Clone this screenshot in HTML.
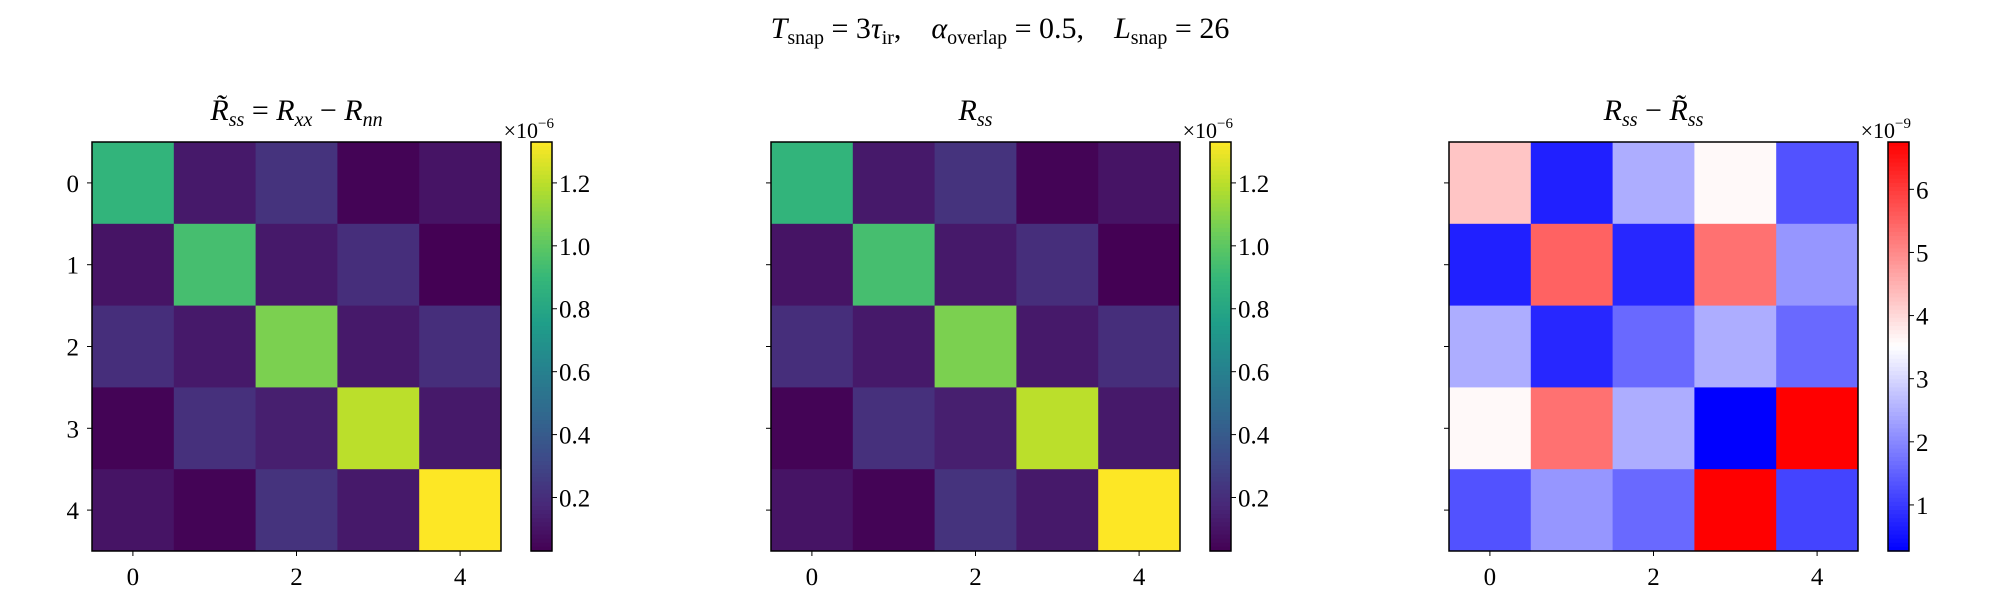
<!DOCTYPE html>
<html><head><meta charset="utf-8">
<style>
html,body{margin:0;padding:0;background:#fff;}
svg{display:block;font-family:"Liberation Serif","DejaVu Serif",serif;}
</style></head>
<body>
<svg id="fig" width="2000" height="600" viewBox="0 0 2000 600" xmlns="http://www.w3.org/2000/svg">
<text x="1000" y="38" text-anchor="middle" font-size="30"><tspan font-style="italic">T</tspan><tspan font-size="20" dy="6">snap</tspan><tspan dy="-6"> = 3</tspan><tspan font-style="italic">τ</tspan><tspan font-size="20" dy="6">ir</tspan><tspan dy="-6">,&#160;&#160;&#160;&#160;</tspan><tspan font-style="italic">α</tspan><tspan font-size="20" dy="6">overlap</tspan><tspan dy="-6"> = 0.5,&#160;&#160;&#160;&#160;</tspan><tspan font-style="italic">L</tspan><tspan font-size="20" dy="6">snap</tspan><tspan dy="-6"> = 26</tspan></text>
</svg>
<script>
const ticksX = [0, 2, 4];
const ticksY = [0, 1, 2, 3, 4];
const rtildeValues = [
  [0.88, 0.12, 0.22, 0.04, 0.10],
  [0.10, 0.94, 0.12, 0.20, 0.03],
  [0.20, 0.12, 1.07, 0.12, 0.20],
  [0.04, 0.21, 0.14, 1.20, 0.12],
  [0.10, 0.04, 0.22, 0.12, 1.33]
];
const rssValues = [
  [0.88, 0.12, 0.22, 0.04, 0.10],
  [0.10, 0.94, 0.12, 0.20, 0.03],
  [0.20, 0.12, 1.07, 0.12, 0.20],
  [0.04, 0.21, 0.14, 1.20, 0.12],
  [0.10, 0.04, 0.22, 0.12, 1.33]
];
const diffValues = [
  [4.25, 0.68, 2.47, 3.58, 1.31],
  [0.68, 5.50, 0.76, 5.32, 2.18],
  [2.47, 0.76, 1.60, 2.47, 1.60],
  [3.58, 5.32, 2.47, 0.27, 6.75],
  [1.31, 2.18, 1.60, 6.75, 1.13]
];
const viridisTicks = [0.2, 0.4, 0.6, 0.8, 1.0, 1.2];
const viridisTickLabels = ["0.2", "0.4", "0.6", "0.8", "1.0", "1.2"];
const bwrTicks = [1, 2, 3, 4, 5, 6];
const bwrTickLabels = ["1", "2", "3", "4", "5", "6"];

const NS = "http://www.w3.org/2000/svg";
const svgEl = document.getElementById('fig');
function mk(tag, attrs, parent) {
  const e = document.createElementNS(NS, tag);
  for (const k in attrs) e.setAttribute(k, attrs[k]);
  (parent || svgEl).appendChild(e);
  return e;
}
const VIR = [[68,1,84],[72,40,120],[62,74,137],[49,104,142],[38,130,142],[31,158,137],[53,183,121],[109,205,89],[180,222,44],[253,231,37]];
function viridis(t) {
  t = Math.max(0, Math.min(1, t));
  const s = t * (VIR.length - 1), i = Math.min(Math.floor(s), VIR.length - 2), f = s - i;
  const c = VIR[i].map((v, k) => Math.round(v + (VIR[i + 1][k] - v) * f));
  return `rgb(${c[0]},${c[1]},${c[2]})`;
}
function bwr(t) {
  t = Math.max(0, Math.min(1, t));
  let r, g, b;
  if (t < 0.5) { r = g = 2 * t; b = 1; } else { r = 1; g = b = 2 - 2 * t; }
  return `rgb(${Math.round(r*255)},${Math.round(g*255)},${Math.round(b*255)})`;
}

const axTop = 142, axSize = 409;
const panels = [
  {x: 92, data: rtildeValues, cmap: viridis, vmin: 0.03, vmax: 1.33, ticks: viridisTicks, labels: viridisTickLabels, exp: "−6", ylabels: true, name: "rtilde"},
  {x: 771, data: rssValues, cmap: viridis, vmin: 0.03, vmax: 1.33, ticks: viridisTicks, labels: viridisTickLabels, exp: "−6", ylabels: false, name: "rss"},
  {x: 1449, data: diffValues, cmap: bwr, vmin: 0.27, vmax: 6.75, ticks: bwrTicks, labels: bwrTickLabels, exp: "−9", ylabels: false, name: "diff"}
];
const titles = [
  '<tspan font-style="italic">R̃</tspan><tspan font-style="italic" font-size="20" dy="6">ss</tspan><tspan dy="-6"> = </tspan><tspan font-style="italic">R</tspan><tspan font-style="italic" font-size="20" dy="6">xx</tspan><tspan dy="-6"> − </tspan><tspan font-style="italic">R</tspan><tspan font-style="italic" font-size="20" dy="6">nn</tspan>',
  '<tspan font-style="italic">R</tspan><tspan font-style="italic" font-size="20" dy="6">ss</tspan>',
  '<tspan font-style="italic">R</tspan><tspan font-style="italic" font-size="20" dy="6">ss</tspan><tspan dy="-6"> − </tspan><tspan font-style="italic">R̃</tspan><tspan font-style="italic" font-size="20" dy="6">ss</tspan>'
];

panels.forEach((p, pi) => {
  const g = mk('g', {});
  
  
  const n = p.data.length, cell = axSize / n;
  const xScale = i => p.x + (i + 0.5) * cell;
  const yScale = i => axTop + (i + 0.5) * cell;
  const norm = v => (v - p.vmin) / (p.vmax - p.vmin);
  p.data.forEach((row, r) => row.forEach((v, c) => {
    const rc = mk('rect', {x: xScale(c) - cell / 2, y: yScale(r) - cell / 2, width: cell + 0.5, height: cell + 0.5, fill: p.cmap(norm(v))}, g);
    
    
  }));
  const fr = mk('rect', {x: p.x, y: axTop, width: axSize, height: axSize, fill: 'none', stroke: '#000', 'stroke-width': 1.5}, g);
  
  
  ticksX.forEach(t => {
    mk('line', {x1: xScale(t), x2: xScale(t), y1: axTop + axSize, y2: axTop + axSize + 5, stroke: '#000', 'stroke-width': 1}, g);
    const tx = mk('text', {x: xScale(t), y: axTop + axSize + 34, 'text-anchor': 'middle', 'font-size': 25}, g);
    tx.textContent = t;
    
    
  });
  ticksY.forEach(t => {
    mk('line', {x1: p.x - 5, x2: p.x, y1: yScale(t), y2: yScale(t), stroke: '#000', 'stroke-width': 1}, g);
    if (p.ylabels) {
      const ty = mk('text', {x: p.x - 13, y: yScale(t) + 9, 'text-anchor': 'end', 'font-size': 25}, g);
      ty.textContent = t;
      
      
    }
  });
  const tt = mk('text', {x: p.x + axSize / 2, y: 120, 'text-anchor': 'middle', 'font-size': 30}, g);
  tt.innerHTML = titles[pi];
  
  
  const cx = p.x + axSize + 30, cw = 21;
  const cb = mk('g', {}, g);
  
  
  const steps = 100;
  for (let i = 0; i < steps; i++) {
    const t = 1 - (i + 0.5) / steps;
    mk('rect', {x: cx, y: axTop + i * axSize / steps, width: cw, height: axSize / steps + 0.6, fill: p.cmap(t)}, cb);
  }
  mk('rect', {x: cx, y: axTop, width: cw, height: axSize, fill: 'none', stroke: '#000', 'stroke-width': 1.5}, cb);
  const cy = v => axTop + axSize - norm(v) * axSize;
  p.ticks.forEach((t, i) => {
    mk('line', {x1: cx + cw, x2: cx + cw + 5, y1: cy(t), y2: cy(t), stroke: '#000', 'stroke-width': 1}, cb);
    const lt = mk('text', {x: cx + cw + 7, y: cy(t) + 9, 'font-size': 25}, cb);
    lt.textContent = p.labels[i];
    
    
  });
  const ex = mk('text', {x: cx + cw + 2, y: axTop - 4, 'text-anchor': 'end', 'font-size': 22}, g);
  ex.innerHTML = '×10<tspan font-size="15" dy="-10">' + p.exp + '</tspan>';
  
  
});
</script>
</body></html>
